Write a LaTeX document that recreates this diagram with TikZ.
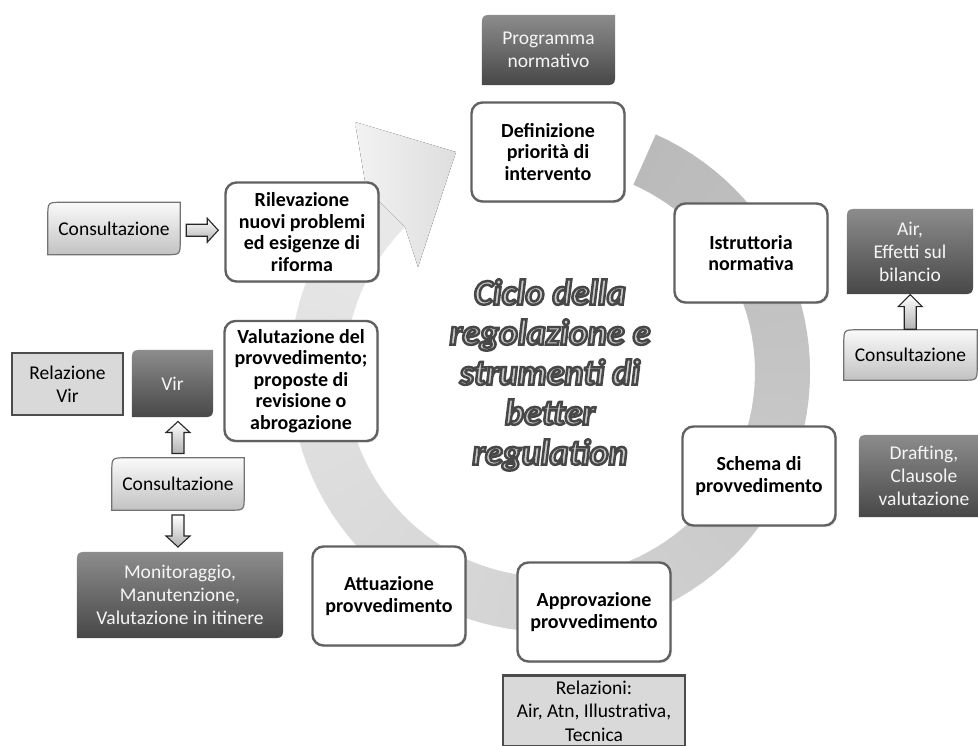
\documentclass[tikz,border=0pt]{standalone}
\usepackage{fontspec}
\setmainfont{Carlito}
\newfontfamily\titlefont{Carlito}[BoldItalicFeatures={FakeBold=7}]
\usetikzlibrary{calc,shadows,backgrounds}

% box with the top left and bottom right corners rounded, put behind a node
\newcommand{\cornerbox}[2]{%
  \begin{pgfonlayer}{background}
  \path[#2] ($(#1.north west)+(0,14)$) .. controls (#1.north west) .. ($(#1.north west)+(14,0)$)
    -- (#1.north east) -- ($(#1.south east)+(0,-14)$)
    .. controls (#1.south east) .. ($(#1.south east)+(-14,0)$)
    -- (#1.south west) -- cycle;
  \end{pgfonlayer}}
% outline of a hollow block arrow pointing along x, centred on the origin
\newcommand{\blockpath}{(-16,-6) -- (5,-6) -- (5,-12) -- (16,0) -- (5,12) -- (5,6) -- (-16,6) -- cycle}
% dark stroke for the outlined title letters
\newcommand{\darkedge}{\special{pdf:literal direct 0.28 G}}

\tikzset{
  stage/.style={draw=black!62, line width=2.4pt, fill=white, rounded corners=11pt,
    minimum width=153pt, minimum height=99pt, align=center, inner sep=2pt,
    font=\fontsize{20}{21.4}\selectfont\bfseries,
    drop shadow={opacity=0.25, shadow xshift=1.5pt, shadow yshift=-1.5pt}},
  tool/.style={align=center, inner sep=0pt, text=black!4,
    font=\fontsize{19.5}{23}\selectfont},
  consult/.style={align=center, inner sep=0pt, minimum width=132pt, minimum height=52pt,
    font=\fontsize{19.5}{23}\selectfont},
  report/.style={draw=black!70, line width=2.5pt, fill=black!15, align=center,
    inner sep=0pt, font=\fontsize{19.5}{23.5}\selectfont},
  darkfill/.style={top color=black!45, bottom color=black!72},
  lightfill/.style={draw=black!55, line width=1.2pt, top color=black!2, bottom color=black!24},
  blockarrow/.style={draw=black!85, line width=1.1pt, top color=white, bottom color=black!30},
  titletext/.style={align=center, text=black!20,
    font=\titlefont\fontsize{36}{40}\selectfont\bfseries\itshape}
}

\begin{document}
\begin{tikzpicture}[x=1pt, y=-1pt]
\useasboundingbox (0,0) rectangle (978,745);

% grey circular arrow, made of thin slices that get lighter towards the head
\begin{scope}[shift={(550,372)}, yscale=-1]
\foreach \a in {66,63,...,-222} {
    \pgfmathsetmacro{\lev}{27-18*(66-\a)/288}
    \fill[black!\lev] (\a:205) -- (\a:260)
        arc[start angle=\a, end angle=\a-3.3, radius=260]
        -- (\a-3.3:205) arc[start angle=\a-3.3, end angle=\a, radius=205] -- cycle;
}
\fill[left color=black!5, right color=black!13]
    (-225:260) -- (-195,250) -- (-94,220) -- (-132,105) -- (-225:205) -- cycle;
\end{scope}

% stages of the cycle
\node[stage] (defin) at (548,152) {Definizione\\priorità di\\intervento};
\node[stage] (istrut) at (751,253) {Istruttoria\\normativa};
\node[stage] (schema) at (759,476) {Schema di\\provvedimento};
\node[stage] (approv) at (594,612) {Approvazione\\provvedimento};
\node[stage] (attua) at (389,596) {Attuazione\\provvedimento};
\node[stage, minimum height=120pt] (valut) at (301,381)
    {Valutazione del\\provvedimento;\\proposte di\\revisione o\\abrogazione};
\node[stage] (rilev) at (302,232) {Rilevazione\\nuovi problemi\\ed esigenze di\\riforma};

% title in the middle
\node[titletext] (title) at (550,375)
    {\darkedge Ciclo della\\\darkedge regolazione e\\\darkedge strumenti di\\\darkedge better\\\darkedge regulation};

% instruments
\node[tool, minimum width=133pt, minimum height=70pt] (prog) at (548.5,50) {Programma\\normativo};
\node[tool, minimum width=126pt, minimum height=85pt] (air) at (910,251.5) {Air,\\Effetti sul\\bilancio};
\node[tool, minimum width=130pt, minimum height=82pt] (draft) at (924,476) {Drafting,\\Clausole\\valutazione};
\node[tool, minimum width=81pt, minimum height=67pt] (vir) at (172.5,383.5) {Vir};
\node[tool, minimum width=206pt, minimum height=86pt] (monit) at (180,595)
    {Monitoraggio,\\Manutenzione,\\Valutazione in itinere};
\foreach \n in {prog,air,draft,vir,monit}
    \cornerbox{\n}{darkfill};

\node[consult] (cons1) at (114,228.5) {Consultazione};
\node[consult] (cons2) at (178,484) {Consultazione};
\node[consult, minimum width=133pt, minimum height=50pt] (cons3) at (910.5,355) {Consultazione};
\foreach \n in {cons1,cons2,cons3}
    \cornerbox{\n}{lightfill};

\node[report, minimum width=111pt, minimum height=62pt] (relvir) at (67.5,384) {Relazione\\Vir};
\node[report, minimum width=182pt, minimum height=71pt] (relaz) at (594,711)
    {Relazioni:\\Air, Atn, Illustrativa,\\Tecnica};

% block arrows
\draw[blockarrow, shift={($(cons1.east)!0.5!(rilev.west)$)}] \blockpath;
\draw[blockarrow, shift={($(cons3.north)!0.5!(air.south)$)}, rotate=90, xscale=1.08] \blockpath;
\draw[blockarrow, shift={($(cons2.north)!0.5!(cons2.north |- vir.south)$)}, rotate=90] \blockpath;
\draw[blockarrow, shift={($(cons2.south)!0.5!(cons2.south |- monit.north)$)}, rotate=-90] \blockpath;
\end{tikzpicture}
\end{document}
